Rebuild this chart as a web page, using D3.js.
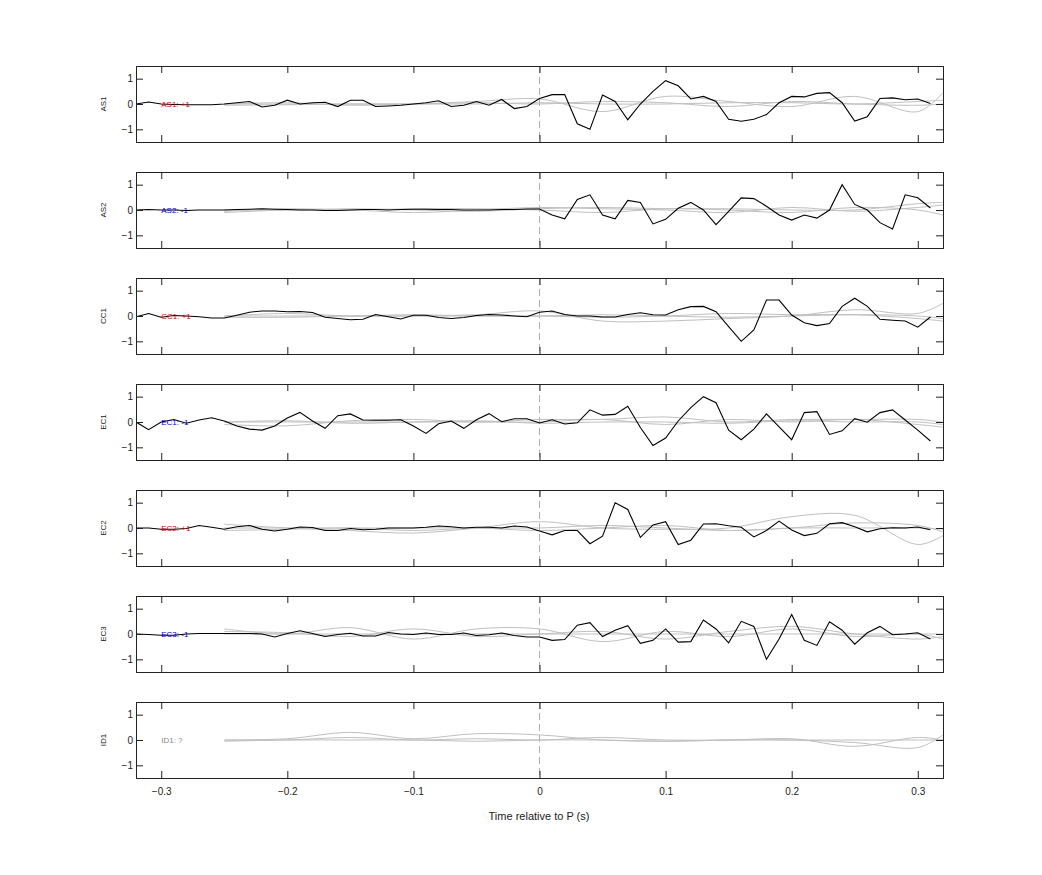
<!DOCTYPE html>
<html><head><meta charset="utf-8">
<script src="https://cdn.jsdelivr.net/npm/d3@7"></script>
<style>body{margin:0;background:#fff}text{font-family:"Liberation Sans",Arial,sans-serif}</style>
</head><body><svg id="c" width="1042" height="875"></svg>
<script>
const stations = ["AS1","AS2","CC1","EC1","EC2","EC3","ID1"];
const polarityLabels = ["AS1: +1","AS2: -1","CC1: +1","EC1: -1","EC2: +1","EC3: -1","ID1: ?"];
const polarityColors = ["#d00000","#0000cc","#d00000","#0000cc","#d00000","#0000cc","#888888"];
const xTicks = [-0.3,-0.2,-0.1,0,0.1,0.2,0.3];
const yTicks = [-1,0,1];
// black traces sampled every 0.01 s from -0.32 to 0.31
const traceTimes = d3.range(64).map(i => +(-0.32 + i*0.01).toFixed(2));
const traceAS1 = [0,.08,0,-.02,-.03,-.03,-.03,0,.05,.1,-.12,-.05,.15,0,.05,.07,-.1,.15,.15,-.1,-.08,-.05,0,.05,.13,-.1,-.05,.1,-.05,.18,-.18,-.1,
 .22,.37,.37,-.78,-1,.35,.1,-.62,0,.5,.92,.72,.2,.3,.1,-.6,-.68,-.6,-.42,.05,.3,.28,.42,.45,.05,-.67,-.5,.22,.24,.17,.2,.02];
const traceAS2 = [0,.02,0,0,-.02,0,0,0,.02,.03,.05,.03,.02,0,0,-.02,-.02,0,.02,.02,0,.02,.03,.03,.02,.02,0,0,0,.02,.02,.04,
 .04,-.2,-.35,.42,.6,-.2,-.35,.38,.3,-.55,-.37,.07,.3,0,-.58,-.05,.48,.45,.15,-.2,-.4,-.2,-.32,0,1.0,.22,0,-.5,-.75,.6,.48,.08];
const traceCC1 = [-.03,.1,-.05,.02,0,-.03,-.08,-.08,.03,.15,.2,.2,.17,.18,.14,-.05,-.1,-.15,-.13,.06,-.03,-.12,.03,.03,-.06,-.1,-.06,.02,.06,.04,0,-.03,
 .15,.2,.06,0,0,-.04,-.04,.06,.13,.05,.04,.25,.37,.38,.17,-.42,-1.0,-.55,.63,.63,.04,-.27,-.38,-.3,.38,.7,.38,-.13,-.17,-.2,-.44,-.04];
const traceEC1 = [0,-.3,0,.1,-.05,.08,.17,.04,-.16,-.28,-.32,-.16,.16,.38,.04,-.25,.25,.32,.08,.07,.07,.09,-.16,-.45,-.07,.04,-.25,.09,.33,.01,.13,.13,
 -.04,.09,-.08,-.03,.48,.27,.3,.62,-.22,-.93,-.63,.04,.57,1.0,.76,-.32,-.7,-.28,.32,-.19,-.7,.37,.41,-.49,-.35,.13,-.01,.37,.48,.08,-.32,-.75];
const traceEC2 = [0,0,-.05,-.05,-.02,.1,.03,-.05,.05,.1,-.05,-.12,-.05,.04,.02,-.1,-.1,-.02,-.07,-.05,0,0,0,.03,.08,.05,0,.03,.03,0,.08,.04,
 -.12,-.27,-.1,-.1,-.62,-.32,1.0,.73,-.37,.12,.25,-.65,-.48,.16,.17,.09,.03,-.35,-.1,.27,-.08,-.3,-.21,.17,.21,.05,-.15,-.03,.01,0,.04,-.07];
const traceEC3 = [0,-.02,-.05,-.05,0,.02,.02,.02,.02,.02,0,-.12,.02,.13,.02,-.1,-.02,.03,-.08,-.08,.06,0,-.02,.04,-.02,-.02,.04,-.06,-.03,.04,-.06,-.12,
 -.12,-.25,-.22,.35,.45,-.1,.15,.33,-.37,-.25,.2,-.32,-.3,.55,.2,-.35,.5,.3,-1.0,-.2,.77,-.25,-.45,.48,.15,-.4,.05,.3,-.03,0,.05,-.2];
const traces = [traceAS1,traceAS2,traceCC1,traceEC1,traceEC2,traceEC3,null];
// grey synthetic traces, knots every 0.05 s
const greyTimes = [-0.25,-0.2,-0.15,-0.1,-0.05,0,0.05,0.1,0.15,0.2,0.25,0.3,0.32];
const greyAS1 = [[0,0,0,0,.1,.2,-.3,.3,.1,-.1,.3,-.3,.45],[-.05,-.03,0,0,0,.05,0,0,.05,.05,0,.1,.15],[0,.05,-.05,0,.05,0,.1,.05,-.1,.1,0,-.05,0]];
const greyAS2 = [[-.1,0,0,-.1,0,.1,.05,0,-.1,.1,-.05,.1,.2],[-.05,.05,0,.05,.05,0,-.1,.05,0,-.1,.1,0,-.2],[0,0,.05,0,-.05,.05,.1,.05,.05,0,0,.25,.3]];
const greyCC1 = [[0,.1,0,0,.05,.2,-.2,-.2,-.1,0,.25,.1,.5],[-.05,-.05,0,.05,0,0,-.05,0,.1,.05,.05,-.1,-.2],[0,0,0,0,0,0,.05,0,-.05,0,.05,0,-.1]];
const greyEC1 = [[-.1,-.15,.05,.1,0,.1,.1,.2,0,.1,.1,.1,0],[0,0,0,0,0,0,.1,-.1,.1,0,.1,-.1,-.2],[0,.05,-.05,0,.05,-.05,0,0,-.05,.05,0,0,-.1]];
const greyEC2 = [[.15,0,-.1,-.2,0,.25,0,-.05,0,.45,.5,-.65,-.3],[-.1,-.05,0,-.1,0,0,.1,0,-.1,0,.2,.1,-.15],[0,0,0,0,0,-.1,0,.1,-.1,0,0,0,-.05]];
const greyEC3 = [[.2,0,.25,-.2,.2,.2,-.3,.1,-.1,.2,-.1,0,-.2],[.1,.05,-.1,.2,-.1,0,.1,-.2,.1,.3,0,-.2,-.1],[0,0,0,0,0,0,0,0,0,0,0,0,0]];
const greyID1 = [[0,.05,.3,.05,.25,.2,0,-.05,0,0,-.1,-.3,.2],[0,0,.1,0,.05,0,.1,0,0,.05,-.25,.1,0],[-.05,0,0,0,-.05,0,0,-.05,0,0,0,0,0]];
const greys = [greyAS1,greyAS2,greyCC1,greyEC1,greyEC2,greyEC3,greyID1];

const svg = d3.select("#c");
const x = d3.scaleLinear().domain([-0.32,0.32]).range([136,943]);
const top0 = 66, step = 106, ph = 76;
stations.forEach((st,i)=>{
  const t = top0 + i*step;
  const y = d3.scaleLinear().domain([-1.5,1.5]).range([t+ph,t]);
  const g = svg.append("g");
  const cid = "clip"+i;
  svg.append("clipPath").attr("id",cid).append("rect").attr("x",136).attr("y",t).attr("width",807).attr("height",ph);
  const pg = g.append("g").attr("clip-path",`url(#${cid})`);
  pg.append("line").attr("x1",x(0)).attr("x2",x(0)).attr("y1",t).attr("y2",t+ph)
    .attr("stroke","#999").attr("stroke-dasharray","7,4").attr("stroke-width",0.8);
  const gl = d3.line().x((d,j)=>x(greyTimes[j])).y(d=>y(d)).curve(d3.curveCatmullRom);
  greys[i].forEach(s=>pg.append("path").attr("d",gl(s)).attr("fill","none").attr("stroke","#c0c0c0").attr("stroke-width",1));
  if(traces[i]){
    const bl = d3.line().x((d,j)=>x(traceTimes[j])).y(d=>y(d));
    pg.append("path").attr("d",bl(traces[i])).attr("fill","none").attr("stroke","#000").attr("stroke-width",1.1);
  }
  g.append("text").attr("x",x(-0.3)).attr("y",y(0)+3).attr("font-size",8).attr("fill",polarityColors[i]).text(polarityLabels[i]);
  const ax = d3.axisBottom(x).tickValues(xTicks).tickSize(-7).tickFormat(i===6?d3.format(""):"");
  const axT = d3.axisTop(x).tickValues(xTicks).tickSize(-7).tickFormat("");
  const ay = d3.axisLeft(y).tickValues(yTicks).tickSize(-7).tickFormat(d3.format("d"));
  const ayR = d3.axisRight(y).tickValues(yTicks).tickSize(-7).tickFormat("");
  [[ax,`translate(0,${t+ph})`],[axT,`translate(0,${t})`],[ay,`translate(136,0)`],[ayR,`translate(943,0)`]].forEach(([a,tr])=>{
    const ga = g.append("g").attr("transform",tr).call(a);
    ga.select(".domain").attr("stroke","#222");
    ga.selectAll(".tick line").attr("stroke","#222");
    ga.selectAll("text").attr("font-size",10).attr("fill","#222").style("font-family","Liberation Sans, Arial");
  });
  g.selectAll(".tick text").filter(function(){return this.parentNode.parentNode.getAttribute("transform")===`translate(0,${t+ph})`;}).attr("dy","1.4em");
  g.append("text").attr("transform",`translate(106,${y(0)}) rotate(-90)`).attr("text-anchor","middle").attr("font-size",8).attr("fill","#222").text(st);
});
svg.append("text").attr("x",539).attr("y",820).attr("text-anchor","middle").attr("font-size",11).attr("fill","#222").text("Time relative to P (s)");
</script></body></html>
